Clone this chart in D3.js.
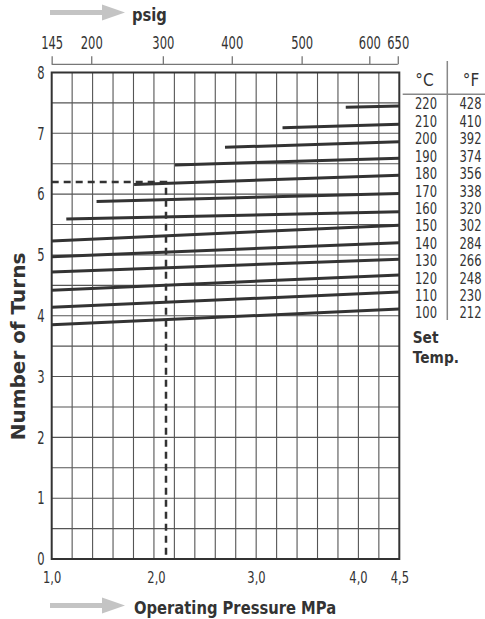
<!DOCTYPE html>
<html>
<head>
<meta charset="utf-8">
<script src="https://cdn.jsdelivr.net/npm/d3@7"></script>
<style>
  body { margin: 0; background: #fff; }
  text { font-family: "DejaVu Sans", sans-serif; fill: #333; }
</style>
</head>
<body>
<div id="chart"></div>
<script>
// set temperatures, one line each
var tempC = [100, 110, 120, 130, 140, 150, 160, 170, 180, 190, 200, 210, 220];
var tempF = [212, 230, 248, 266, 284, 302, 320, 338, 356, 374, 392, 410, 428];
// where each line starts (MPa, turns) and its turns at 4.5 MPa
var startMPa   = [1.0, 1.0, 1.0, 1.0, 1.0, 1.0, 1.14, 1.43, 1.79, 2.19, 2.69, 3.26, 3.88];
var startTurns = [3.85, 4.14, 4.42, 4.72, 4.97, 5.23, 5.59, 5.88, 6.16, 6.48, 6.77, 7.09, 7.43];
var endTurns   = [4.11, 4.39, 4.67, 4.93, 5.20, 5.49, 5.71, 6.01, 6.31, 6.59, 6.86, 7.15, 7.45];
var endMPa = 4.5;

var psigTicks = [145, 200, 300, 400, 500, 600, 650];
var mpaTicks = [1.0, 2.0, 3.0, 4.0, 4.5];
var turnTicks = [0, 1, 2, 3, 4, 5, 6, 7, 8];

// example reading
var opMPa = 2.1, opTurns = 6.2;

var PSI_TO_MPA = 0.00689476;
var width = 485, height = 619;

var svg = d3.select('#chart')
  .append('svg')
    .attr('width', width)
    .attr('height', height);

// x axis of the chart is not quite linear, so use a polylinear scale
var x = d3.scaleLinear()
  .domain(mpaTicks)
  .range([51.7, 156, 256, 358, 399.3]);

// same positions, in psig
var xPsig = d3.scaleLinear()
  .domain(mpaTicks.map(function(d) { return d / PSI_TO_MPA; }))
  .range(x.range());

var y = d3.scaleLinear()
  .domain([0, 8])
  .range([559, 72.5]);

var x0 = x(1.0), x1 = x(4.5);
var col = d3.scaleLinear().domain([0, 17]).range([x0, x1]);

// the original font is a narrow one, so squeeze text horizontally
function squash(sel, k){
  sel.each(function(){
    var t = d3.select(this);
    var tx = +t.attr('x') || 0;
    t.attr('x', tx / k)
     .attr('transform', 'scale(' + k + ',1)');
  });
}

//grid
var grid = svg.append('g').attr('class', 'grid');

grid.selectAll('.hgrid')
  .data(d3.range(0.5, 8, 0.5)).enter()
  .append('line')
    .attr('class', 'hgrid')
    .attr('x1', x0)
    .attr('x2', x1)
    .attr('y1', function(d) { return y(d); })
    .attr('y2', function(d) { return y(d); })
    .attr('stroke', '#555')
    .attr('stroke-width', 1.1);

grid.selectAll('.vgrid')
  .data(d3.range(1, 17)).enter()
  .append('line')
    .attr('class', 'vgrid')
    .attr('x1', function(d) { return col(d); })
    .attr('x2', function(d) { return col(d); })
    .attr('y1', y(8))
    .attr('y2', y(0))
    .attr('stroke', '#555')
    .attr('stroke-width', 1.1);

//temperature lines
var lines = tempC.map(function(c, i){
  return {c: c, xs: startMPa[i], ys: startTurns[i], ye: endTurns[i]};
});

svg.append('g')
  .selectAll('line')
  .data(lines).enter()
  .append('line')
    .attr('x1', function(d) { return x(d.xs); })
    .attr('y1', function(d) { return y(d.ys); })
    .attr('x2', x(endMPa))
    .attr('y2', function(d) { return y(d.ye); })
    .attr('stroke', '#333')
    .attr('stroke-width', 3);

//dashed reading
svg.append('path')
  .attr('d', d3.line()([[x(1.0), y(opTurns)], [x(opMPa), y(opTurns)], [x(opMPa), y(0)]]))
  .attr('fill', 'none')
  .attr('stroke', '#333')
  .attr('stroke-width', 2.5)
  .attr('stroke-dasharray', '7,5');

//border
svg.append('rect')
  .attr('x', x0)
  .attr('y', y(8))
  .attr('width', x1 - x0)
  .attr('height', y(0) - y(8))
  .attr('fill', 'none')
  .attr('stroke', '#333')
  .attr('stroke-width', 2);

//top psig axis
var topAxis = svg.append('g')
  .attr('transform', 'translate(0,64.3)')
  .call(d3.axisTop(xPsig)
    .tickValues(psigTicks)
    .tickSize(8)
    .tickSizeOuter(0)
    .tickPadding(7)
    .tickFormat(d3.format('d')));

topAxis.select('.domain').remove();
topAxis.append('line')
  .attr('x1', xPsig(145))
  .attr('x2', xPsig(650))
  .attr('stroke', '#777')
  .attr('stroke-width', 1.3);
topAxis.selectAll('.tick line').attr('stroke', '#777').attr('stroke-width', 1.3);
topAxis.selectAll('.tick text')
  .attr('font-family', 'DejaVu Sans')
  .attr('font-size', 18)
  .attr('fill', '#333')
  .call(squash, 0.64);

//bottom MPa axis
var bottomAxis = svg.append('g')
  .attr('transform', 'translate(0,' + y(0) + ')')
  .call(d3.axisBottom(x)
    .tickValues(mpaTicks)
    .tickSize(0)
    .tickPadding(13)
    .tickFormat(function(d) { return d3.format('.1f')(d).replace('.', ','); }));
bottomAxis.select('.domain').remove();
bottomAxis.selectAll('.tick text')
  .attr('font-family', 'DejaVu Sans')
  .attr('font-size', 16)
  .attr('fill', '#333')
  .call(squash, 0.72);

//left turns axis
var leftAxis = svg.append('g')
  .attr('transform', 'translate(' + x0 + ',0)')
  .call(d3.axisLeft(y)
    .tickValues(turnTicks)
    .tickSize(0)
    .tickPadding(7)
    .tickFormat(d3.format('d')));
leftAxis.select('.domain').remove();
leftAxis.selectAll('.tick text')
  .attr('font-family', 'DejaVu Sans')
  .attr('font-size', 18)
  .attr('fill', '#333')
  .call(squash, 0.64);

svg.append('text')
  .attr('transform', 'translate(25,346.5) rotate(-90)')
  .attr('text-anchor', 'middle')
  .attr('font-size', 20)
  .attr('font-weight', 'bold')
  .text('Number of Turns');

//arrows + titles
function arrow(ax, ay){
  svg.append('path')
    .attr('d', d3.line()([[ax, ay - 2.5], [ax + 52, ay - 2.5], [ax + 52, ay - 8], [ax + 75, ay],
                          [ax + 52, ay + 8], [ax + 52, ay + 2.5], [ax, ay + 2.5]]) + 'Z')
    .attr('fill', '#c4c4c4');
}
arrow(50, 12.5);
arrow(50, 605.5);

svg.append('text')
  .attr('x', 132)
  .attr('y', 21)
  .attr('font-size', 18)
  .attr('font-weight', 'bold')
  .text('psig')
  .call(squash, 0.82);

svg.append('text')
  .attr('x', 134)
  .attr('y', 614.5)
  .attr('font-size', 18)
  .attr('font-weight', 'bold')
  .text('Operating Pressure MPa')
  .call(squash, 0.82);

//temperature table
var row = d3.scalePoint()
  .domain(tempC.slice().reverse())
  .range([104, 313]);

var table = svg.append('g').attr('class', 'table');

table.append('line')
  .attr('x1', 447.3).attr('x2', 447.3)
  .attr('y1', 61).attr('y2', 320)
  .attr('stroke', '#888')
  .attr('stroke-width', 1.5);

table.append('line')
  .attr('x1', 402.7).attr('x2', 485)
  .attr('y1', 94.3).attr('y2', 94.3)
  .attr('stroke', '#888')
  .attr('stroke-width', 1.5);

table.selectAll('.head')
  .data([['°C', 424.5], ['°F', 471]]).enter()
  .append('text')
    .attr('class', 'head')
    .attr('x', function(d) { return d[1]; })
    .attr('y', 86)
    .attr('text-anchor', 'middle')
    .attr('font-size', 18)
    .text(function(d) { return d[0]; })
    .call(squash, 0.85);

table.selectAll('.tc')
  .data(tempC).enter()
  .append('text')
    .attr('class', 'tc')
    .attr('x', 426)
    .attr('y', function(d) { return row(d) + 5.5; })
    .attr('text-anchor', 'middle')
    .attr('font-size', 15)
    .text(function(d) { return d; })
    .call(squash, 0.77);

table.selectAll('.tf')
  .data(tempF).enter()
  .append('text')
    .attr('class', 'tf')
    .attr('x', 470.5)
    .attr('y', function(d, i) { return row(tempC[i]) + 5.5; })
    .attr('text-anchor', 'middle')
    .attr('font-size', 15)
    .text(function(d) { return d; })
    .call(squash, 0.77);

table.selectAll('.settemp')
  .data([['Set', 343.3], ['Temp.', 363.3]]).enter()
  .append('text')
    .attr('class', 'settemp')
    .attr('x', 412.7)
    .attr('y', function(d) { return d[1]; })
    .attr('font-size', 16)
    .attr('font-weight', 'bold')
    .text(function(d) { return d[0]; })
    .call(squash, 0.86);
</script>
</body>
</html>
